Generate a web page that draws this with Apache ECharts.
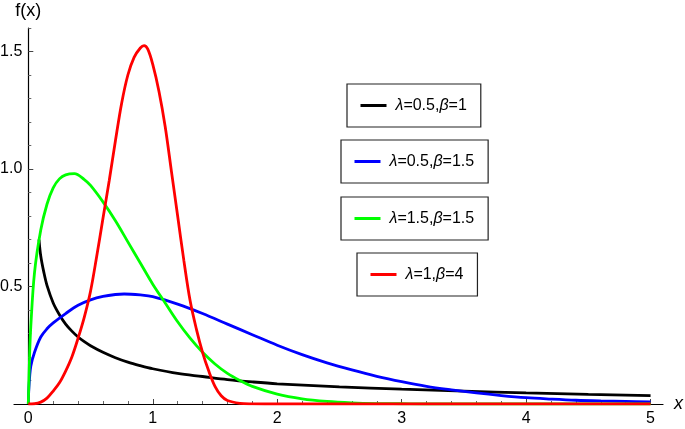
<!DOCTYPE html>
<html><head><meta charset="utf-8">
<script src="https://cdn.jsdelivr.net/npm/echarts@6/dist/echarts.min.js"></script>
<style>html,body{margin:0;padding:0;background:#fff}#c{width:685px;height:429px}</style>
</head><body><div id="c"></div>
<script>
const seriesNames = ['λ=0.5,β=1', 'λ=0.5,β=1.5', 'λ=1.5,β=1.5', 'λ=1,β=4'];
const seriesColors = ['#000000', '#0000ff', '#00ff00', '#ff0000'];

const blackX = [0.086,0.1,0.125,0.15,0.2,0.25,0.3,0.35,0.4,0.45,0.5,0.6,0.7,0.8,0.9,1.0,1.2,1.4,1.6,1.8,2.0,2.5,3.0,3.5,4.0,4.5,5.0];
const blackY = [0.70,0.63,0.56,0.505,0.43,0.38,0.34,0.31,0.285,0.265,0.248,0.22,0.197,0.178,0.163,0.15,0.13,0.117,0.104,0.094,0.086,0.073,0.063,0.055,0.047,0.041,0.036];

const blueX = [0,0.005,0.02,0.05,0.1,0.15,0.2,0.3,0.4,0.5,0.6,0.7,0.77,0.9,1.0,1.2,1.4,1.6,1.8,2.0,2.2,2.4,2.6,2.8,3.0,3.2,3.4,3.6,3.8,4.0,4.2,4.4,4.6,4.8,5.0];
const blueY = [0,0.07,0.16,0.22,0.285,0.32,0.345,0.385,0.42,0.443,0.458,0.466,0.468,0.464,0.457,0.425,0.385,0.34,0.295,0.25,0.21,0.175,0.145,0.118,0.095,0.075,0.06,0.047,0.036,0.027,0.021,0.016,0.013,0.011,0.009];

const greenX = [0,0.01,0.02,0.05,0.1,0.15,0.2,0.25,0.3,0.37,0.45,0.5,0.6,0.7,0.8,0.9,1.0,1.1,1.2,1.3,1.4,1.5,1.6,1.7,1.8,2.0,2.2,2.4,2.6,2.8,3.0,3.2,4.0,5.0];
const greenY = [0,0.2,0.33,0.56,0.74,0.85,0.92,0.958,0.975,0.98,0.955,0.93,0.86,0.78,0.69,0.6,0.51,0.43,0.35,0.28,0.22,0.17,0.13,0.1,0.075,0.042,0.022,0.011,0.005,0.002,0.001,0,0,0];

const redX = [0,0.05,0.1,0.15,0.2,0.25,0.3,0.35,0.4,0.45,0.5,0.55,0.6,0.65,0.7,0.75,0.8,0.85,0.9,0.93,0.96,1.0,1.05,1.1,1.15,1.2,1.25,1.3,1.35,1.4,1.45,1.5,1.55,1.6,1.7,1.8,1.9,3,4,5];
const redY = [0,0.001,0.008,0.025,0.055,0.09,0.14,0.2,0.28,0.37,0.48,0.63,0.79,0.95,1.12,1.28,1.40,1.475,1.515,1.525,1.51,1.445,1.33,1.18,0.99,0.80,0.61,0.44,0.32,0.22,0.14,0.075,0.035,0.015,0.003,0.0005,0,0,0,0];

const xTickLabels = [0, 1, 2, 3, 4, 5];
const xMinorTicks = [0.2,0.4,0.6,0.8,1.2,1.4,1.6,1.8,2.2,2.4,2.6,2.8,3.2,3.4,3.6,3.8,4.2,4.4,4.6,4.8];
const yTickLabels = [0.5, 1.0, 1.5];
const yMinorTicks = [0.1,0.2,0.3,0.4,0.6,0.7,0.8,0.9,1.1,1.2,1.3,1.4,1.6];

const allX = [blackX, blueX, greenX, redX];
const allY = [blackY, blueY, greenY, redY];

const FONT = "'Liberation Sans', Arial, sans-serif";

const X_MIN = -0.115, X_MAX = 5.1;
const GRID_LEFT = 14, GRID_W = 649;
// y axis sits at x = 0 of the value axis
const Y_OFFSET = -(0 - X_MIN) / (X_MAX - X_MIN) * GRID_W;

// legend box layout
const legLeft = [347, 341, 341, 357];
const legTop = [84, 140, 197, 253];
const legTextW = [78, 91, 91, 62];

const chart = echarts.init(document.getElementById('c'), null, {renderer: 'canvas'});

const zip = (xs, ys) => xs.map((x, i) => [x, ys[i]]);

const option = {
  backgroundColor: '#ffffff',
  animation: false,
  grid: {left: GRID_LEFT, top: 28, width: GRID_W, height: 376, containLabel: false, outerBoundsMode: 'none'},
  xAxis: [
    {
      type: 'value', min: X_MIN, max: X_MAX, position: 'bottom',
      name: 'x', nameLocation: 'end', nameGap: 11,
      nameTextStyle: {fontStyle: 'italic', fontSize: 18, fontFamily: FONT, color: '#000', verticalAlign: 'middle'},
      axisLine: {show: true, onZero: false, lineStyle: {color: '#000', width: 1.2}},
      axisTick: {show: true, inside: true, length: 5, customValues: xTickLabels, lineStyle: {color: '#444', width: 1}},
      axisLabel: {show: true, customValues: xTickLabels, fontSize: 16, fontFamily: FONT, color: '#000', margin: 7},
      splitLine: {show: false}
    },
    {
      type: 'value', min: X_MIN, max: X_MAX, position: 'bottom',
      axisLine: {show: false, onZero: false},
      axisTick: {show: true, inside: true, length: 3, customValues: xMinorTicks, lineStyle: {color: '#666', width: 1}},
      axisLabel: {show: false},
      splitLine: {show: false}
    }
  ],
  yAxis: [
    {
      type: 'value', min: 0, max: 1.6, position: 'left', offset: Y_OFFSET,
      name: 'f(x)', nameLocation: 'end', nameGap: 8,
      nameTextStyle: {fontSize: 18, fontFamily: FONT, color: '#000', align: 'center'},
      axisLine: {show: true, onZero: false, lineStyle: {color: '#000', width: 1.2}},
      axisTick: {show: true, inside: true, length: 5, customValues: yTickLabels, lineStyle: {color: '#444', width: 1}},
      axisLabel: {show: true, customValues: yTickLabels, fontSize: 16, fontFamily: FONT, color: '#000', margin: 6,
                  formatter: v => Number(v).toFixed(1)},
      splitLine: {show: false}
    },
    {
      type: 'value', min: 0, max: 1.6, position: 'left', offset: Y_OFFSET,
      axisLine: {show: false, onZero: false},
      axisTick: {show: true, inside: true, length: 3, customValues: yMinorTicks, lineStyle: {color: '#666', width: 1}},
      axisLabel: {show: false},
      splitLine: {show: false}
    }
  ],
  legend: seriesNames.map((n, i) => ({
    data: [n],
    left: legLeft[i], top: legTop[i],
    orient: 'horizontal',
    selectedMode: false,
    borderColor: '#222', borderWidth: 1.2,
    padding: [13.5, 14, 13.5, 13.5],
    icon: 'rect',
    itemWidth: 26, itemHeight: 3,
    formatter: name => name.replace(/([λβ])/g, '{g|$1}'),
    textStyle: {
      fontSize: 16, fontFamily: FONT, color: '#000', width: legTextW[i], padding: [0, 0, 0, 4],
      rich: {g: {fontStyle: 'italic', fontSize: 16, fontFamily: FONT, color: '#000'}}
    }
  })),
  series: seriesNames.map((n, i) => ({
    name: n, type: 'line', xAxisIndex: 0, yAxisIndex: 0,
    data: zip(allX[i], allY[i]),
    showSymbol: false, symbol: 'none',
    smooth: 0.35,
    color: seriesColors[i],
    itemStyle: {color: seriesColors[i]},
    lineStyle: {color: seriesColors[i], width: 2.8},
    clip: true
  }))
};
chart.setOption(option);
</script>
</body></html>
